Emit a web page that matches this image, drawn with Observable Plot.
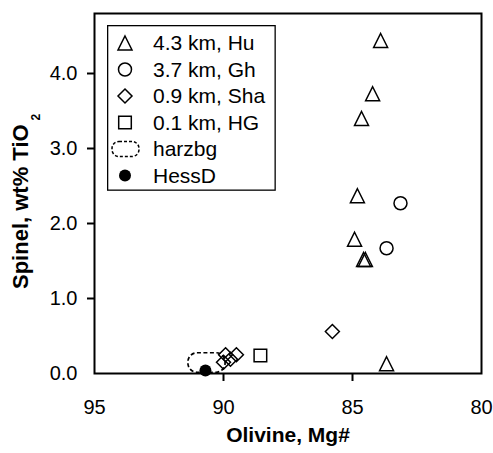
<!DOCTYPE html>
<html><head><meta charset="utf-8">
<script src="https://cdn.jsdelivr.net/npm/d3@7"></script>
<script src="https://cdn.jsdelivr.net/npm/@observablehq/plot@0.6"></script>
<style>
html,body{margin:0;padding:0;background:#fff;}
#wrap{position:relative;width:493px;height:453px;font-family:"Liberation Sans",Arial,sans-serif;}
#legend{position:absolute;left:107px;top:25px;}
</style></head><body><div id="wrap"></div>
<script>
// Olivine Mg# (x) and Spinel wt% TiO2 (y) per series
const huMg    = [83.91, 84.22, 84.65, 84.81, 84.92, 84.50, 84.57, 83.68];
const huTiO2  = [4.44, 3.73, 3.40, 2.37, 1.79, 1.52, 1.52, 0.13];
const ghMg    = [83.14, 83.68];
const ghTiO2  = [2.27, 1.67];
const shaMg   = [85.78, 89.92, 89.50, 90.00, 89.73];
const shaTiO2 = [0.56, 0.25, 0.25, 0.15, 0.19];
const hgMg    = [88.57];
const hgTiO2  = [0.24];
const hessMg  = [90.70];
const hessTiO2 = [0.04];
const harzMg  = [91.36, 89.92];
const harzTiO2 = [0.01, 0.27];
const xTicks = [95, 90, 85, 80];
const yTicks = [0, 1, 2, 3, 4];
const legendLabels = ["4.3 km, Hu", "3.7 km, Gh", "0.9 km, Sha", "0.1 km, HG", "harzbg", "HessD"];
const xTitle = "Olivine, Mg#";
const yTitleMain = "Spinel, wt% TiO";
const yTitleSub = "2";

const FONT = "Liberation Sans, Arial, sans-serif";
const pts = (xs, ys) => xs.map((x, i) => ({x, y: ys[i]}));

const tri = {draw(c, size){ const r = Math.sqrt(size/Math.PI); c.moveTo(0,-r); c.lineTo(r,r); c.lineTo(-r,r); c.closePath(); }};
const dia = {draw(c, size){ const r = Math.sqrt(size/Math.PI); c.moveTo(0,-r); c.lineTo(r,0); c.lineTo(0,r); c.lineTo(-r,0); c.closePath(); }};
const sq  = {draw(c, size){ const r = Math.sqrt(size/Math.PI); c.rect(-r,-r,2*r,2*r); }};

const harz = [{x1: harzMg[0], x2: harzMg[1], y1: harzTiO2[0], y2: harzTiO2[1]}];

const chart = Plot.plot({
  width: 493, height: 453,
  marginLeft: 94, marginRight: 12, marginTop: 13, marginBottom: 80,
  style: {fontFamily: FONT, fontSize: "20px", color: "#000", background: "#fff"},
  x: {domain: [95, 80], label: null},
  y: {domain: [0, 4.8], label: null},
  marks: [
    Plot.rect(harz, {x1: "x1", x2: "x2", y1: "y1", y2: "y2", rx: 9, fill: "none", stroke: "#000", strokeWidth: 1.7, strokeDasharray: "4,2.5"}),
    Plot.dot(pts(huMg, huTiO2), {x: "x", y: "y", symbol: tri, r: 7, stroke: "#000", strokeWidth: 1.5, fill: "none"}),
    Plot.dot(pts(ghMg, ghTiO2), {x: "x", y: "y", symbol: "circle", r: 6.5, stroke: "#000", strokeWidth: 1.5, fill: "none"}),
    Plot.dot(pts(shaMg, shaTiO2), {x: "x", y: "y", symbol: dia, r: 7, stroke: "#000", strokeWidth: 1.5, fill: "none"}),
    Plot.dot(pts(hgMg, hgTiO2), {x: "x", y: "y", symbol: sq, r: 6.3, stroke: "#000", strokeWidth: 1.5, fill: "none"}),
    Plot.dot(pts(hessMg, hessTiO2), {x: "x", y: "y", r: 6, fill: "#000", stroke: "none"}),
    Plot.axisX(xTicks, {tickSize: 0, tickPadding: 26, fontSize: 20, label: null}),
    Plot.axisX(xTicks.slice(1, -1), {tickSize: 8, strokeWidth: 2, text: null, label: null}),
    Plot.axisY(yTicks, {tickSize: 0, tickPadding: 17, tickFormat: d3.format(".1f"), fontSize: 20, label: null}),
    Plot.axisY(yTicks.slice(1), {tickSize: 7, strokeWidth: 2, text: null, label: null}),
    Plot.frame({stroke: "#000", strokeWidth: 2}),
    Plot.text([xTitle], {frameAnchor: "bottom", dy: 68, fontWeight: "bold", fontSize: 21, fill: "#000"})
  ]
});

const svg = d3.select(chart);
// y-axis title with subscript
const yt = svg.append("text")
  .attr("transform", "rotate(-90)")
  .attr("x", -289).attr("y", 28)
  .attr("text-anchor", "start")
  .attr("font-family", FONT).attr("font-weight", "bold").attr("font-size", 22).attr("fill", "#000");
yt.append("tspan").text(yTitleMain);
yt.append("tspan").attr("dx", 4).attr("dy", 12).attr("font-size", 12).text(yTitleSub);

document.getElementById("wrap").appendChild(chart);

// legend box
const lg = d3.select("#wrap").append("svg").attr("id", "legend").attr("width", 169).attr("height", 166);
lg.append("rect").attr("x", 0.65).attr("y", 0.65).attr("width", 167.5).attr("height", 164.5)
  .attr("fill", "#fff").attr("stroke", "#000").attr("stroke-width", 1.3);
const rowY = i => 18 + i * 26.5;
const legendSyms = [tri, d3.symbolCircle, dia, sq, null, d3.symbolCircle];
legendLabels.forEach((lab, i) => {
  const g = lg.append("g").attr("transform", `translate(18,${rowY(i)})`);
  if (i === 4) {
    g.append("rect").attr("x", -13).attr("y", -7.5).attr("width", 27).attr("height", 15).attr("rx", 7)
      .attr("fill", "none").attr("stroke", "#000").attr("stroke-width", 1.5).attr("stroke-dasharray", "3,2");
  } else {
    const r = i === 5 ? 6 : (i === 1 ? 6.5 : (i === 3 ? 6.3 : 7));
    g.append("path").attr("d", d3.symbol(legendSyms[i], Math.PI * r * r)())
      .attr("fill", i === 5 ? "#000" : "none").attr("stroke", i === 5 ? "none" : "#000").attr("stroke-width", 1.5);
  }
  lg.append("text").attr("x", 46).attr("y", rowY(i)).attr("dy", "0.35em")
    .attr("font-family", FONT).attr("font-size", 21).attr("fill", "#000").text(lab);
});
</script>
</body></html>
